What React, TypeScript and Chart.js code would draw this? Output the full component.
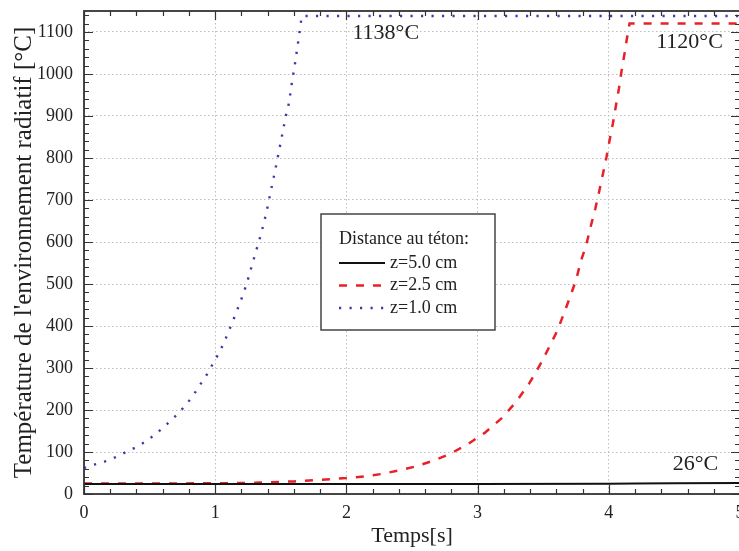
import React, { useEffect, useRef } from "react";
import { Chart, registerables } from "chart.js";

Chart.register(...registerables);

// ---- Data ----
const seriesLabels = ["z=5.0 cm", "z=2.5 cm", "z=1.0 cm"];
const legendTitle = "Distance au téton:";
const xTitle = "Temps[s]";
const yTitle = "Température de l'environnement radiatif [°C]";

const timeZ50 = [0, 1, 2, 3, 4, 4.2, 4.5, 5];
const tempZ50 = [24, 24, 24, 24.1, 24.3, 25.2, 25.6, 26];

const timeZ25 = [0, 0.5, 1, 1.3, 1.6, 1.886, 2.0, 2.135, 2.267, 2.401, 2.528, 2.66, 2.793, 2.927, 3.054, 3.189, 3.3, 3.397, 3.473, 3.541, 3.608, 3.658, 3.707, 3.752, 3.785, 3.829, 3.861, 3.897, 3.925, 3.953, 3.981, 4.006, 4.031, 4.054, 4.077, 4.097, 4.12, 4.141, 4.158, 5];
const tempZ25 = [25, 25, 25.5, 26.5, 30, 35.6, 38, 42, 47.6, 56, 65.6, 79, 96, 119, 145.5, 182, 222, 265, 306, 347, 389, 430, 471, 511, 552, 594, 636, 679, 718, 759, 800, 842, 882, 924, 965, 1007, 1049, 1090, 1120, 1120];

const timeZ10 = [0, 0.078, 0.16, 0.236, 0.315, 0.394, 0.47, 0.548, 0.625, 0.706, 0.777, 0.835, 0.889, 0.937, 0.982, 1.026, 1.064, 1.097, 1.129, 1.16, 1.19, 1.219, 1.244, 1.267, 1.289, 1.312, 1.335, 1.356, 1.376, 1.394, 1.45, 1.5, 1.536, 1.556, 1.569, 1.579, 1.592, 1.605, 1.617, 1.628, 1.64, 1.65, 1.66, 5];
const tempZ10 = [62, 70, 77.5, 87, 99, 111, 125, 143, 164, 188, 212, 236, 262, 285, 310, 334, 358, 383, 407, 432, 456, 481, 505, 530, 554, 579, 603, 627, 652, 676, 760, 838, 897, 921, 945, 969, 994, 1018, 1043, 1068, 1092, 1117, 1138, 1138];

const annotationTexts = ["1138°C", "1120°C", "26°C"];
const annotationX = [2.3, 4.615, 4.66];
const annotationY = [1097, 1076, 70];

const xMin = 0, xMax = 5, xStep = 1, xMinor = 0.2;
const yMin = 0, yMax = 1150, yStep = 100, yMinor = 20;

const FONT = "'Liberation Serif', 'Times New Roman', serif";
const TEXT = "#222";
const colors = ["#111111", "#e8202a", "#3b3ba8"];
const dashes = [[], [8, 9], [2.2, 8.3]];
const widths = [2, 2.5, 2.4];

const toPts = (xs: number[], ys: number[]) => xs.map((x, i) => ({ x, y: ys[i] }));

const framePlugin = {
  id: "frameTicks",
  afterDatasetsDraw(chart: any) {
    const { ctx, chartArea, scales } = chart;
    const { left, right, top, bottom } = chartArea;
    const xs = scales.x, ys = scales.y;
    ctx.save();
    ctx.strokeStyle = "#333";
    ctx.lineWidth = 1.2;
    const nx = Math.round((xMax - xMin) / xMinor);
    for (let i = 0; i <= nx; i++) {
      const v = xMin + i * xMinor;
      const px = Math.round(xs.getPixelForValue(v)) + 0.5;
      const len = i % Math.round(xStep / xMinor) === 0 ? 9 : 5;
      ctx.beginPath();
      ctx.moveTo(px, bottom); ctx.lineTo(px, bottom - len);
      ctx.moveTo(px, top); ctx.lineTo(px, top + len);
      ctx.stroke();
    }
    const ny = Math.floor((yMax - yMin) / yMinor);
    for (let i = 0; i <= ny; i++) {
      const v = yMin + i * yMinor;
      const py = Math.round(ys.getPixelForValue(v)) + 0.5;
      const len = i % Math.round(yStep / yMinor) === 0 ? 9 : 5;
      ctx.beginPath();
      ctx.moveTo(left, py); ctx.lineTo(left + len, py);
      ctx.moveTo(right, py); ctx.lineTo(right - len, py);
      ctx.stroke();
    }
    ctx.lineWidth = 1.8;
    ctx.strokeRect(left, top, right - left, bottom - top);

    // annotations
    ctx.fillStyle = TEXT;
    ctx.font = `22px ${FONT}`;
    ctx.textAlign = "center";
    ctx.textBaseline = "middle";
    annotationTexts.forEach((t, i) => {
      ctx.fillText(t, xs.getPixelForValue(annotationX[i]), ys.getPixelForValue(annotationY[i]));
    });

    // legend
    const bx = 321, by = 214, bw = 174, bh = 116;
    ctx.fillStyle = "#fff";
    ctx.fillRect(bx, by, bw, bh);
    ctx.strokeStyle = "#444";
    ctx.lineWidth = 1.5;
    ctx.strokeRect(bx, by, bw, bh);
    ctx.fillStyle = TEXT;
    ctx.font = `18px ${FONT}`;
    ctx.textAlign = "left";
    ctx.textBaseline = "middle";
    ctx.fillText(legendTitle, bx + 18, by + 25);
    chart.data.datasets.forEach((ds: any, i: number) => {
      const yy = by + 49 + i * 22.5;
      ctx.save();
      ctx.strokeStyle = ds.borderColor;
      ctx.lineWidth = ds.borderWidth;
      ctx.setLineDash(ds.borderDash || []);
      ctx.beginPath();
      ctx.moveTo(bx + 18, yy);
      ctx.lineTo(bx + 64, yy);
      ctx.stroke();
      ctx.restore();
      ctx.fillStyle = TEXT;
      ctx.fillText(ds.label, bx + 69, yy);
    });
    ctx.restore();
  },
};

export default function App() {
  const ref = useRef<HTMLCanvasElement>(null);
  useEffect(() => {
    document.body.style.margin = "0";
    const datasets = [
      toPts(timeZ50, tempZ50),
      toPts(timeZ25, tempZ25),
      toPts(timeZ10, tempZ10),
    ].map((data, i) => ({
      label: seriesLabels[i],
      data,
      borderColor: colors[i],
      backgroundColor: colors[i],
      borderWidth: widths[i],
      borderDash: dashes[i],
      pointRadius: 0,
      tension: 0,
      fill: false,
    }));
    const chart = new Chart(ref.current!, {
      type: "line",
      data: { datasets },
      plugins: [framePlugin],
      options: {
        responsive: false,
        animation: false,
        devicePixelRatio: 1,
        layout: { padding: { top: 11, right: 10, left: 0, bottom: 0 } },
        plugins: { legend: { display: false }, tooltip: { enabled: false } },
        scales: {
          x: {
            type: "linear",
            min: xMin,
            max: xMax,
            grid: { color: "#bdbdbd", lineWidth: 1, drawTicks: false },
            border: { display: false, dash: [1.5, 2.5] },
            ticks: { stepSize: xStep, color: TEXT, font: { family: FONT, size: 18 }, padding: 8, includeBounds: false, maxRotation: 0, callback: (v: any) => String(v) },
            title: { display: true, text: xTitle, color: TEXT, font: { family: FONT, size: 22 }, padding: { top: 0, bottom: 2 } },
            afterFit: (s: any) => { s.height = 57; s.paddingLeft = 0; s.paddingRight = 0; },
          },
          y: {
            type: "linear",
            min: yMin,
            max: yMax,
            grid: { color: "#bdbdbd", lineWidth: 1, drawTicks: false },
            border: { display: false, dash: [1.5, 2.5] },
            ticks: { stepSize: yStep, color: TEXT, font: { family: FONT, size: 18 }, padding: 11, includeBounds: false, callback: (v: any) => String(v) },
            title: { display: true, text: yTitle, color: TEXT, font: { family: FONT, size: 25 }, padding: { top: 9, bottom: 0 } },
            afterFit: (s: any) => { s.width = 84; s.paddingTop = 0; s.paddingBottom = 0; },
          },
        },
      },
    } as any);
    return () => chart.destroy();
  }, []);
  return (
    <div style={{ position: "fixed", left: 0, top: 0, width: 739, height: 551, overflow: "hidden", background: "#fff" }}>
      <canvas ref={ref} width={750} height={551} style={{ display: "block", width: 750, height: 551 }} />
    </div>
  );
}
